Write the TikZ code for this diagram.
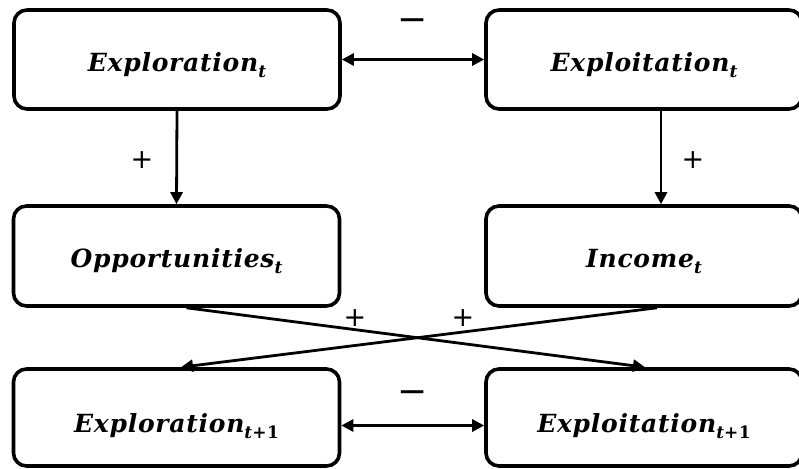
\documentclass[tikz,border=0pt]{standalone}
\usepackage{fontspec}
\newfontfamily\lab[LetterSpace=3]{DejaVu Serif}
\newfontfamily\signfont{DejaVu Sans}
\usetikzlibrary{arrows.meta}
\newcommand{\lbl}[3]{{\lab\bfseries\itshape\fontsize{25}{30}\selectfont\vphantom{E}\raisebox{-#3}[0pt][0pt]{#1\raisebox{-6pt}{\fontsize{17}{17}\selectfont #2}}}}
\tikzset{
  box/.style={draw, line width=3.6pt, rounded corners=13pt, inner sep=0pt, fill=white},
  wbox/.style={box, minimum width=326pt},
  rbox/.style={box, minimum width=316pt},
  link/.style={line width=2.8pt, -{Triangle[length=12pt,width=12pt]}},
  dlink/.style={line width=2.8pt, {Triangle[length=12pt,width=12pt]}-{Triangle[length=12pt,width=12pt]}},
  sign/.style={font=\signfont\fontsize{27}{27}\selectfont, inner sep=0pt},
  msign/.style={font=\signfont\fontsize{36}{36}\selectfont, inner sep=0pt}
}
\begin{document}
\begin{tikzpicture}[x=1pt,y=-1pt]
\useasboundingbox (0,0) rectangle (799,468);
\clip (0,0) rectangle (799,468);
\node[wbox, minimum height=99pt] (b1) at (177,59.5) {\lbl{Exploration}{t}{3pt}};
\node[rbox, minimum height=99pt] (b2) at (644,59.5) {\lbl{Exploitation}{t}{3pt}};
\node[wbox, minimum height=100pt] (b3) at (176.5,256) {\lbl{Opportunities}{t}{2pt}};
\node[rbox, minimum height=100pt] (b4) at (644,256) {\lbl{Income}{t}{2pt}};
\node[wbox, minimum height=97pt] (b5) at (176.5,417.5) {\lbl{Exploration}{t\upshape+1}{6pt}};
\node[rbox, minimum height=97pt] (b6) at (644,417.5) {\lbl{Exploitation}{t\upshape+1}{6pt}};
\draw[dlink] (b1.east) -- (b2.west);
\draw[dlink] ([yshift=-8pt]b5.east) -- ([yshift=-8pt]b6.west);
\draw[link] (b1.south) -- (b3.north);
\draw[link] ([xshift=17pt]b2.south) -- ([xshift=17pt]b4.north);
\draw[link] ([xshift=10pt]b3.south) -- ([xshift=1pt]b6.north);
\draw[link] ([xshift=13pt]b4.south) -- ([xshift=4.5pt]b5.north);
\node[msign] (m1) at (413,25) {−};
\node[msign] (m2) at (413,397) {−};
\node[sign] (p1) at (142,160) {+};
\node[sign] (p2) at (693,160) {+};
\node[sign] (p3) at (355,318) {+};
\node[sign] (p4) at (463,318) {+};
\end{tikzpicture}
\end{document}
